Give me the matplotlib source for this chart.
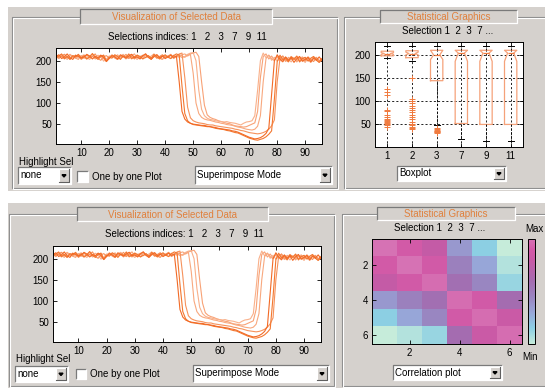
import numpy as np
import matplotlib
matplotlib.use("Agg")
import matplotlib.pyplot as plt
from matplotlib.patches import Rectangle, Polygon
from matplotlib.colors import LinearSegmentedColormap

plt.rcParams['font.family'] = ['Liberation Sans', 'DejaVu Sans']

W, H = 545, 388

# selected profiles (one value per sample, samples 1..96)
curve1 = [210, 214, 205, 209, 216, 207, 203, 213, 210, 206,
          209, 215, 211, 204, 210, 207, 213, 208, 198, 205,
          212, 209, 204, 214, 210, 206, 211, 215, 207, 209,
          204, 212, 216, 208, 203, 210, 214, 207, 211, 205,
          209, 213, 208, 211, 150, 80, 62, 55, 52, 50,
          49, 48, 47, 47, 45, 44, 43, 42, 40, 39,
          38, 37, 36, 34, 33, 31, 28, 25, 22, 19,
          17, 15, 16, 18, 22, 28, 40, 120, 200, 214,
          204, 198, 209, 201, 207, 196, 205, 210, 199, 203,
          208, 197, 206, 201, 209, 200]
curve2 = [207, 211, 216, 205, 210, 203, 212, 209, 215, 206,
          212, 204, 209, 217, 208, 203, 210, 213, 199, 208,
          206, 214, 210, 203, 211, 208, 216, 205, 209, 213,
          210, 204, 208, 212, 206, 215, 209, 204, 210, 214,
          208, 205, 212, 216, 213, 140, 75, 58, 52, 49,
          48, 47, 46, 45, 44, 44, 42, 40, 39, 38,
          37, 35, 34, 32, 30, 29, 26, 23, 20, 17,
          15, 13, 12, 14, 16, 20, 26, 34, 110, 198,
          213, 202, 207, 198, 209, 203, 211, 197, 205, 208,
          199, 206, 210, 201, 196, 204]
curve3 = [212, 206, 210, 215, 208, 204, 211, 209, 214, 203,
          208, 213, 207, 210, 216, 205, 201, 209, 212, 206,
          214, 208, 203, 211, 209, 215, 206, 210, 204, 213,
          207, 211, 216, 209, 204, 212, 206, 210, 214, 208,
          211, 215, 207, 210, 216, 218, 160, 90, 65, 58,
          55, 53, 52, 51, 49, 48, 48, 46, 45, 44,
          43, 42, 41, 40, 38, 37, 35, 34, 32, 30,
          29, 28, 27, 28, 30, 33, 38, 46, 60, 150,
          206, 211, 202, 197, 208, 204, 210, 199, 206, 201,
          209, 203, 198, 207, 200, 205]
curve4 = [205, 211, 214, 208, 203, 212, 209, 206, 213, 210,
          207, 204, 211, 215, 209, 205, 210, 213, 200, 207,
          212, 208, 214, 206, 210, 204, 211, 215, 208, 203,
          210, 213, 207, 211, 205, 209, 214, 208, 203, 211,
          209, 213, 206, 212, 208, 214, 216, 211, 215, 170,
          100, 75, 66, 62, 60, 59, 57, 55, 54, 52,
          51, 49, 48, 47, 45, 43, 42, 40, 38, 37,
          36, 38, 45, 70, 150, 205, 213, 205, 200, 211,
          202, 197, 208, 203, 210, 205, 199, 207, 202, 196,
          206, 201, 209, 204, 198, 205]
curve5 = [210, 205, 212, 215, 208, 204, 209, 213, 206, 211,
          214, 207, 203, 210, 208, 213, 209, 199, 204, 211,
          208, 213, 206, 210, 215, 207, 211, 204, 209, 213,
          205, 210, 214, 207, 211, 216, 206, 209, 213, 207,
          211, 205, 213, 208, 212, 207, 210, 215, 218, 219,
          200, 130, 85, 70, 64, 61, 60, 58, 57, 56,
          55, 56, 54, 53, 52, 50, 48, 52, 55, 56,
          58, 70, 130, 200, 218, 207, 213, 201, 208, 199,
          205, 211, 200, 204, 197, 207, 202, 209, 198, 206,
          201, 196, 205, 208, 199, 204]
curve6 = [213, 207, 211, 204, 209, 215, 210, 206, 203, 212,
          206, 214, 209, 211, 204, 207, 213, 205, 198, 210,
          212, 206, 203, 211, 214, 208, 205, 212, 216, 207,
          210, 205, 213, 208, 204, 211, 214, 206, 203, 212,
          208, 213, 205, 210, 215, 211, 208, 213, 216, 218,
          220, 210, 150, 95, 72, 66, 63, 61, 58, 56,
          54, 52, 51, 48, 46, 45, 44, 43, 44, 47,
          50, 53, 80, 160, 210, 216, 204, 211, 202, 209,
          200, 207, 198, 208, 203, 206, 197, 205, 209, 200,
          206, 199, 208, 203, 196, 202]
# light ones first so the darker profiles sit on top
curves = [curve6, curve5, curve4, curve3, curve2, curve1]
curve_colors = ['#f8a276', '#f9b08a', '#f8a87e', '#f6925c', '#f3772f', '#f26a26']

# boxplot summary per selection
box_labels = ['1', '2', '3', '7', '9', '11']
box_med = [203, 203, 200, 204, 204, 204]
box_q1 = [198, 194, 144, 51, 49, 49]
box_q3 = [208, 209, 210, 210, 210, 210]
box_lo = [194, 187, 48, 17, 13, 13]
box_hi = [220, 220, 220, 220, 220, 220]
box_cilo = [201, 200, 190, 186, 186, 186]
box_cihi = [205, 206, 210, 210, 210, 210]
box_fliers = [
    [125, 120, 112, 80, 78, 70, 65, 60, 58, 56, 55, 53, 50, 47, 44],
    [150, 105, 100, 95, 90, 85, 80, 75, 70, 65, 60, 55, 50, 47, 44, 42, 40],
    [42, 40, 37, 35, 34, 33, 32, 30],
    [], [], [],
]

# correlation between selections
corr = [
    [1.00, 0.89, 0.78, 0.36, 0.15, 0.00],
    [0.89, 1.00, 0.88, 0.47, 0.30, 0.05],
    [0.78, 0.88, 0.98, 0.58, 0.44, 0.12],
    [0.36, 0.47, 0.58, 0.98, 0.88, 0.60],
    [0.15, 0.30, 0.44, 0.88, 0.98, 0.82],
    [0.00, 0.05, 0.12, 0.60, 0.82, 0.98],
]

GRAY = '#d5d1cd'
ORANGE_TXT = '#e0803c'
FS = 6.5

fig = plt.figure(figsize=(W / 100, H / 100), dpi=100)
fig.patch.set_facecolor('white')
bg = fig.add_axes([0, 0, 1, 1])
bg.set_xlim(0, W)
bg.set_ylim(H, 0)
bg.axis('off')


def px_ax(x0, y0, x1, y1):
    return fig.add_axes([x0 / W, 1 - y1 / H, (x1 - x0) / W, (y1 - y0) / H])


def sunken(x0, y0, x1, y1, face):
    bg.add_patch(Rectangle((x0, y0), x1 - x0, y1 - y0, facecolor=face, edgecolor='none'))
    bg.plot([x0, x0, x1], [y1, y0, y0], color='#7a7a7a', lw=0.9, solid_capstyle='butt')
    bg.plot([x0, x1, x1], [y1, y1, y0], color='white', lw=0.9, solid_capstyle='butt')


def raised(x0, y0, x1, y1):
    bg.add_patch(Rectangle((x0, y0), x1 - x0, y1 - y0, facecolor=GRAY, edgecolor='none'))
    bg.plot([x0, x0, x1], [y1, y0, y0], color='white', lw=0.8)
    bg.plot([x0, x1, x1], [y1, y1, y0], color='#606060', lw=0.8)


def etched(x0, y0, x1, y1):
    bg.add_patch(Rectangle((x0, y0), x1 - x0, y1 - y0, fill=False, edgecolor='#8a8a8a', lw=0.8))
    bg.add_patch(Rectangle((x0 + 1, y0 + 1), x1 - x0, y1 - y0, fill=False, edgecolor='white', lw=0.8))


def popup(x0, y0, x1, y1, label):
    sunken(x0, y0, x1, y1, 'white')
    raised(x1 - 12, y0 + 2, x1 - 2, y1 - 2)
    cx, cy = x1 - 7, (y0 + y1) / 2
    bg.add_patch(Polygon([(cx - 2, cy - 0.8), (cx + 2, cy - 0.8), (cx, cy + 1.5)],
                         closed=True, color='black'))
    bg.text(x0 + 2, cy, label, ha='left', va='center', fontsize=FS + 0.5)


def checkbox(x0, y0, x1, y1, label):
    sunken(x0, y0, x1, y1, 'white')
    bg.text(x1 + 4, (y0 + y1) / 2, label, ha='left', va='center', fontsize=FS + 0.5)


def panel_title(x0, y0, x1, y1, label):
    sunken(x0, y0, x1, y1, GRAY)
    bg.text((x0 + x1) / 2, (y0 + y1) / 2 + 0.5, label, ha='center', va='center',
            fontsize=FS + 0.5, color=ORANGE_TXT)


def style_ax(ax):
    ax.tick_params(direction='in', top=True, right=True, length=3, width=0.6,
                   labelsize=FS + 0.5, pad=3)
    for s in ax.spines.values():
        s.set_linewidth(0.7)


def line_panel(ax):
    for c, col in zip(curves, curve_colors):
        ax.plot(np.arange(1, len(c) + 1), c, color=col, lw=0.8)
    ax.set_xlim(1, 96)
    ax.set_ylim(3, 230)
    ax.set_xticks([10, 20, 30, 40, 50, 60, 70, 80, 90])
    ax.set_yticks([50, 100, 150, 200])
    style_ax(ax)


# grey GUI backgrounds (two screenshots)
bg.add_patch(Rectangle((8, 7), W - 8, 184, facecolor=GRAY, edgecolor='none'))
bg.add_patch(Rectangle((8, 203), W - 8, H - 203, facecolor=GRAY, edgecolor='none'))

# panel frames
etched(12, 17, 337, 188)
etched(344, 17, 550, 188)
etched(9, 214, 334, 386)
etched(342, 214, 550, 386)

panel_title(80, 9, 272, 24, 'Visualization of Selected Data')
panel_title(380, 10, 517, 23, 'Statistical Graphics')
panel_title(77, 207, 268, 221, 'Visualization of Selected Data')
panel_title(377, 207, 515, 220, 'Statistical Graphics')

# sub-titles
bg.text(187, 37, 'Selections indices: 1   2   3   7   9  11', ha='center', va='center', fontsize=FS + 0.5)
bg.text(184, 234, 'Selections indices: 1   2   3   7   9  11', ha='center', va='center', fontsize=FS + 0.5)
bg.text(448, 31, 'Selection 1  2  3  7 ...', ha='center', va='center', fontsize=FS + 0.5)
bg.text(440, 228, 'Selection 1  2  3  7 ...', ha='center', va='center', fontsize=FS + 0.5)

# controls, top-left
bg.text(19, 162, 'Highlight Sel', ha='left', va='center', fontsize=FS + 0.5)
popup(18, 167, 71, 184, 'none')
checkbox(77, 171, 88, 182, 'One by one Plot')
popup(195, 166, 332, 184, 'Superimpose Mode')
# controls, bottom-left
bg.text(16, 359, 'Highlight Sel', ha='left', va='center', fontsize=FS + 0.5)
popup(15, 366, 68, 382, 'none')
checkbox(76, 369, 86, 379, 'One by one Plot')
popup(193, 365, 329, 382, 'Superimpose Mode')
# right panels
popup(397, 166, 506, 181, 'Boxplot')
popup(393, 365, 502, 380, 'Correlation plot')
bg.text(534, 229, 'Max', ha='center', va='center', fontsize=FS + 0.5)
bg.text(530, 357, 'Min', ha='center', va='center', fontsize=FS + 0.5)

# line plots
line_panel(px_ax(56, 48, 322, 144))
line_panel(px_ax(53, 246, 321, 342))

# boxplot
axb = px_ax(375, 42, 523, 147)
stats = []
for i in range(len(box_labels)):
    stats.append(dict(med=box_med[i], q1=box_q1[i], q3=box_q3[i], whislo=box_lo[i],
                      whishi=box_hi[i], cilo=box_cilo[i], cihi=box_cihi[i],
                      fliers=box_fliers[i], label=box_labels[i]))
axb.set_axisbelow(True)
axb.grid(True, color='black', linestyle=(0, (2.5, 2.5)), lw=0.6)
axb.bxp(stats, positions=range(1, 7), widths=0.5, shownotches=True, capwidths=0.25,
        boxprops=dict(color='#f5a27a', lw=0.9),
        medianprops=dict(color='#f07a3e', lw=0.9),
        whiskerprops=dict(color='black', linestyle=(0, (2.5, 2)), lw=0.6),
        capprops=dict(color='black', lw=0.7),
        flierprops=dict(marker='+', markeredgecolor='#f07a3e', markersize=4, markeredgewidth=0.7))
axb.set_xlim(0.5, 6.5)
axb.set_ylim(0, 228)
axb.set_yticks([50, 100, 150, 200])
style_ax(axb)

# correlation map
cmap = LinearSegmentedColormap.from_list('sel', [
    (0.00, '#c6ecda'), (0.15, '#8ccfe4'), (0.30, '#98a6d8'), (0.45, '#9a84c0'),
    (0.60, '#a46cb0'), (0.80, '#c85aa6'), (0.90, '#d45aa8'), (1.00, '#d672b4')])
axh = px_ax(372, 239, 522, 344)
im = axh.imshow(np.array(corr), cmap=cmap, vmin=0, vmax=1, extent=(0.5, 6.5, 6.5, 0.5),
                aspect='auto', interpolation='nearest')
axh.set_xticks([2, 4, 6])
axh.set_yticks([2, 4, 6])
style_ax(axh)
cax = px_ax(528, 239, 535, 344)
cb = fig.colorbar(im, cax=cax, ticks=[])
cb.outline.set_linewidth(0.7)

fig.savefig('out.png', dpi=100)
